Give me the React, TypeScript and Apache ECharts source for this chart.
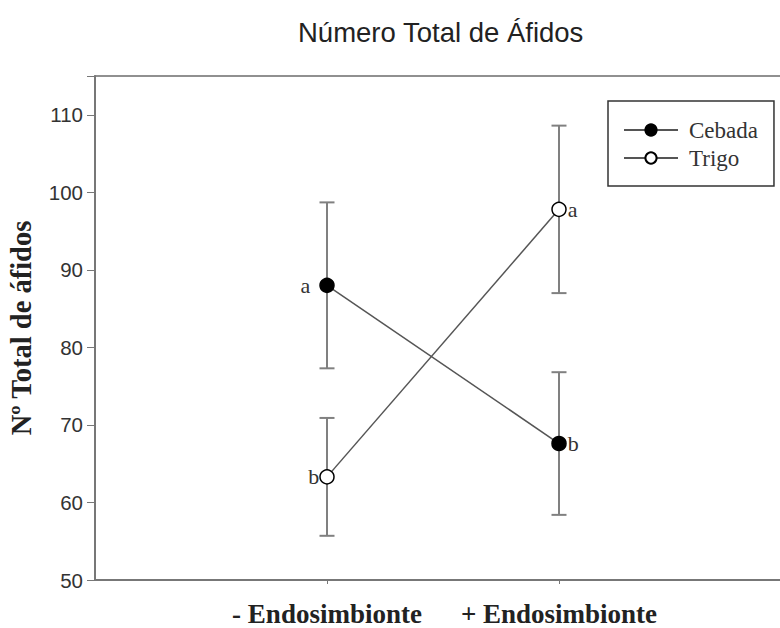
import React, { useEffect, useRef } from "react";
import * as echarts from "echarts";

const categories = ["- Endosimbionte", "+ Endosimbionte"];
const seriesNames = ["Cebada", "Trigo"];
const cebadaMean = [88.0, 67.6];
const cebadaErr = [10.7, 9.2];
const trigoMean = [63.3, 97.8];
const trigoErr = [7.6, 10.8];
const cebadaLetters = ["a", "b"];
const trigoLetters = ["b", "a"];
const yTicks = [50, 60, 70, 80, 90, 100, 110];

const SERIF = "'Liberation Serif', 'Times New Roman', serif";
const SANS = "'Liberation Sans', Arial, sans-serif";

export default function App() {
  const ref = useRef<HTMLDivElement>(null);
  useEffect(() => {
    const chart = echarts.init(ref.current!, null, { renderer: "svg" });
    const axisCats = ["", ...categories, ""];
    const toPts = (m: number[]) => m.map((v, i) => [i + 1, v]);
    const toErr = (m: number[], e: number[]) => m.map((v, i) => [i + 1, v - e[i], v + e[i]]);
    const errSeries = (name: string, data: number[][]) => ({
      type: "custom",
      name,
      z: 1,
      data,
      encode: { x: 0, y: [1, 2] },
      renderItem: (params: any, api: any) => {
        const x = api.value(0);
        const lo = api.coord([x, api.value(1)]);
        const hi = api.coord([x, api.value(2)]);
        const cap = 7.5;
        const style = { stroke: "#808080", lineWidth: 2 };
        return {
          type: "group",
          children: [
            { type: "line", shape: { x1: lo[0], y1: lo[1], x2: hi[0], y2: hi[1] }, style },
            { type: "line", shape: { x1: lo[0] - cap, y1: lo[1], x2: lo[0] + cap, y2: lo[1] }, style },
            { type: "line", shape: { x1: hi[0] - cap, y1: hi[1], x2: hi[0] + cap, y2: hi[1] }, style },
          ],
        };
      },
    });
    const lineSeries = (
      name: string,
      data: number[][],
      fill: string,
      letters: string[],
      positions: string[],
      distances: number[]
    ) => ({
      type: "line",
      name,
      z: 3,
      data: data.map((d, i) => ({
        value: d,
        label: {
          show: true,
          position: positions[i],
          distance: distances[i],
          formatter: letters[i],
          fontFamily: SERIF,
          fontSize: 22,
          color: "#333",
        },
      })),
      symbol: "circle",
      symbolSize: 14,
      itemStyle: { color: fill, borderColor: "#000", borderWidth: 1.5 },
      lineStyle: { color: "#555", width: 1.5 },
    });
    chart.setOption({
      animation: false,
      backgroundColor: "#fff",
      title: {
        text: "Número Total de Áfidos",
        left: 293,
        top: 13,
        textStyle: { fontFamily: SANS, fontSize: 27.5, fontWeight: "normal", color: "#222" },
      },
      legend: {
        data: seriesNames,
        orient: "vertical",
        left: 608,
        top: 101,
        borderColor: "#333",
        borderWidth: 1.5,
        padding: [17, 16, 16, 15],
        itemWidth: 54,
        itemHeight: 14,
        itemGap: 4,
        textStyle: { fontFamily: SERIF, fontSize: 23, color: "#333", lineHeight: 24, padding: [0, 0, 0, 6] },
      },
      grid: {
        left: 95,
        right: -11,
        top: 76,
        bottom: 48,
        outerBoundsMode: "none",
        containLabel: false,
        show: true,
        borderColor: "#222",
        borderWidth: 1.2,
      },
      xAxis: {
        type: "category",
        data: axisCats,
        boundaryGap: false,
        axisLine: { lineStyle: { color: "#777", width: 2 } },
        axisTick: {
          interval: (i: number) => i >= 1 && i <= categories.length,
          length: 4,
          lineStyle: { color: "#777", width: 1 },
        },
        axisLabel: {
          interval: 0,
          margin: 20,
          fontFamily: SERIF,
          fontWeight: "bold",
          fontSize: 27,
          lineHeight: 27,
          color: "#222",
        },
        splitLine: { show: false },
      },
      yAxis: {
        type: "value",
        min: 50,
        max: 115,
        interval: 10,
        name: "Nº Total de áfidos",
        nameLocation: "middle",
        nameGap: 59,
        nameTextStyle: { fontFamily: SERIF, fontWeight: "bold", fontSize: 28.5, color: "#222" },
        axisLine: { show: true, lineStyle: { color: "#777", width: 2 } },
        axisTick: { show: true, length: 8, lineStyle: { color: "#777", width: 1 } },
        axisLabel: {
          margin: 12,
          fontFamily: SANS,
          fontSize: 20.5,
          color: "#333",
          formatter: (v: number) => (yTicks.includes(v) ? String(v) : ""),
        },
        splitLine: { show: false },
      },
      series: [
        errSeries("errC", toErr(cebadaMean, cebadaErr)),
        errSeries("errT", toErr(trigoMean, trigoErr)),
        lineSeries(seriesNames[0], toPts(cebadaMean), "#000", cebadaLetters, ["left", "right"], [9, 1]),
        lineSeries(seriesNames[1], toPts(trigoMean), "#fff", trigoLetters, ["left", "right"], [0, 1]),
      ],
    });
    return () => chart.dispose();
  }, []);
  return <div ref={ref} style={{ width: 780, height: 628, position: "absolute", left: 0, top: 0 }} />;
}
